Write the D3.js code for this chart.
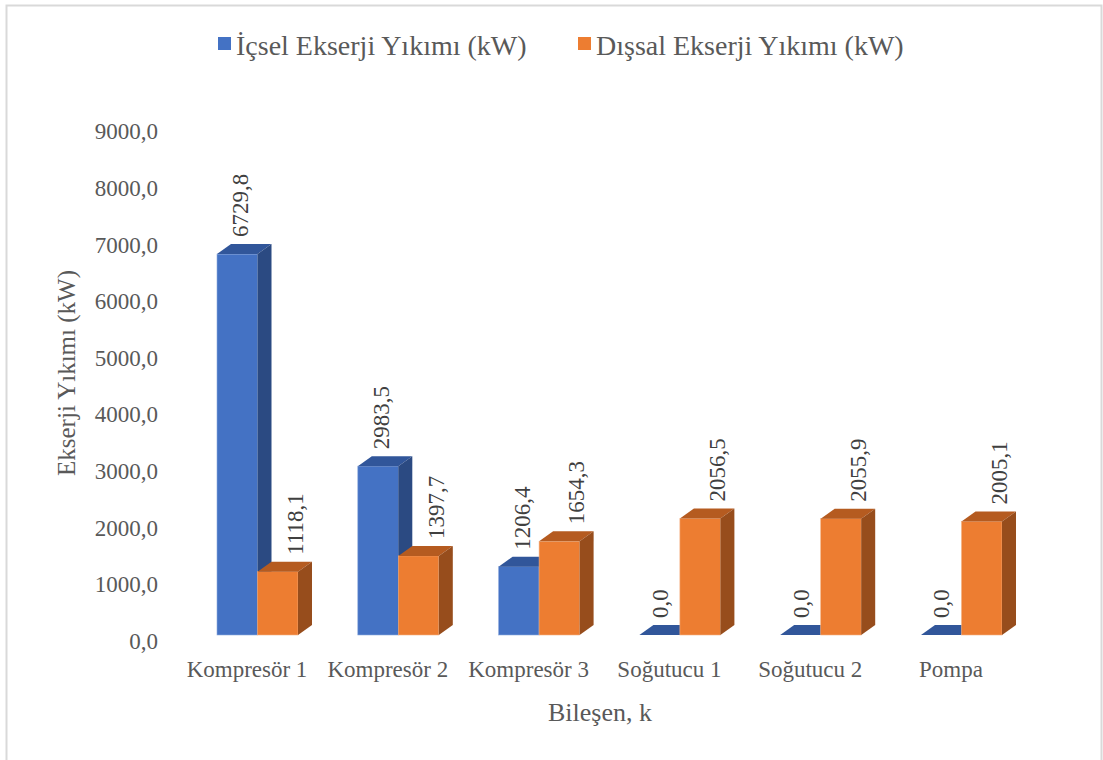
<!DOCTYPE html>
<html>
<head>
<meta charset="utf-8">
<script src="https://cdn.jsdelivr.net/npm/d3@7"></script>
<style>
  body { margin: 0; background: #fff; }
</style>
</head>
<body>
<div id="grafik"></div>
<script>
// veriler
var kategoriler = ["Kompresör 1", "Kompresör 2", "Kompresör 3", "Soğutucu 1", "Soğutucu 2", "Pompa"];
var icsel = [6729.8, 2983.5, 1206.4, 0.0, 0.0, 0.0];
var dissal = [1118.1, 1397.7, 1654.3, 2056.5, 2055.9, 2005.1];
var seriAdlari = ["İçsel Ekserji Yıkımı (kW)", "Dışsal Ekserji Yıkımı (kW)"];
var yTikler = [0, 1000, 2000, 3000, 4000, 5000, 6000, 7000, 8000, 9000];

var width = 1103, height = 760;
var yazi = "'Liberation Serif', 'Times New Roman', serif";
var taban = 635;          // zeminin on kenari
var dx = 14, dy = -10;    // 3B derinlik
var renkler = [
  {on: "#4472C4", ust: "#31569a", yan: "#2b4a82", kenar: "#8eaadc"},
  {on: "#ED7D31", ust: "#b55b20", yan: "#974d1c", kenar: "#f4b183"}
];

var svg = d3.select("#grafik").append("svg")
  .attr("width", width).attr("height", height);

// cerceve
svg.append("rect").attr("x", 6.5).attr("y", 5.5).attr("width", 1095).attr("height", 770)
  .attr("fill", "none").attr("stroke", "#d9d9d9").attr("stroke-width", 2);

// eksenler
var x = d3.scaleBand().domain(kategoriler).range([176.6, 1021.4]);
var x1 = d3.scaleBand().domain([0, 1]).range([0, 81]);
var y = d3.scaleLinear().domain([0, 9000]).range([taban, taban - 509.4]);
var virgul = function(v){ return d3.format(".1f")(v).replace(".", ","); };

var yEksen = svg.append("g").attr("transform", "translate(158,6)")
  .call(d3.axisLeft(y).tickValues(yTikler).tickFormat(virgul).tickSize(0).tickPadding(0));
yEksen.select(".domain").remove();
yEksen.selectAll("text").attr("fill", "#595959")
  .style("font-family", yazi).style("font-size", "23px");

var xEksen = svg.append("g").attr("transform", "translate(0,661)")
  .call(d3.axisBottom(x).tickSize(0).tickPadding(0));
xEksen.select(".domain").remove();
xEksen.selectAll("text").attr("dy", "0.71em").attr("fill", "#595959")
  .style("font-family", yazi).style("font-size", "23px");

// eksen basliklari
svg.append("text").attr("transform", "translate(75,373) rotate(-90)")
  .attr("text-anchor", "middle").attr("fill", "#595959")
  .style("font-family", yazi).style("font-size", "25px").text("Ekserji Yıkımı (kW)");
svg.append("text").attr("x", 600).attr("y", 721)
  .attr("text-anchor", "middle").attr("fill", "#595959")
  .style("font-family", yazi).style("font-size", "26px").text("Bileşen, k");

// 3B cubuklar
var seriler = [icsel, dissal];
var etiketKaydir = [3, 17];
seriler.forEach(function(seri, s) {
  var g = svg.append("g");
  seri.forEach(function(v, i) {
    var x0 = x(kategoriler[i]) + x.bandwidth() / 2 - 30 + x1(s);
    var w = x1.bandwidth();
    var yt = y(v);
    var r = renkler[s];
    g.append("rect").attr("x", x0).attr("y", yt).attr("width", w).attr("height", taban - yt)
      .attr("fill", r.on).attr("stroke", r.kenar).attr("stroke-width", 0.6);
    g.append("polygon")
      .attr("points", [[x0, yt], [x0 + w, yt], [x0 + w + dx, yt + dy], [x0 + dx, yt + dy]].join(" "))
      .attr("fill", r.ust);
    g.append("polygon")
      .attr("points", [[x0 + w, yt], [x0 + w + dx, yt + dy], [x0 + w + dx, taban + dy], [x0 + w, taban]].join(" "))
      .attr("fill", r.yan);
  });
});

// veri etiketleri
seriler.forEach(function(seri, s) {
  seri.forEach(function(v, i) {
    var x0 = x(kategoriler[i]) + x.bandwidth() / 2 - 30 + x1(s);
    var lx = (v === 0) ? x0 + x1.bandwidth() / 2 : x0 + x1.bandwidth() / 2 + etiketKaydir[s];
    var ly = y(v) + dy - 7;
    svg.append("text").attr("transform", "translate(" + lx + "," + ly + ") rotate(-90)")
      .attr("dy", "0.35em").attr("fill", "#404040")
      .style("font-family", yazi).style("font-size", "23px").text(virgul(v));
  });
});

// lejant
var lejantX = [218, 578];
seriAdlari.forEach(function(ad, s) {
  svg.append("rect").attr("x", lejantX[s]).attr("y", 37).attr("width", 13).attr("height", 13)
    .attr("fill", renkler[s].on);
  svg.append("text").attr("x", lejantX[s] + 18).attr("y", 45).attr("dy", "0.35em")
    .attr("fill", "#595959").style("font-family", yazi).style("font-size", "28px").text(ad);
});
</script>
</body>
</html>
